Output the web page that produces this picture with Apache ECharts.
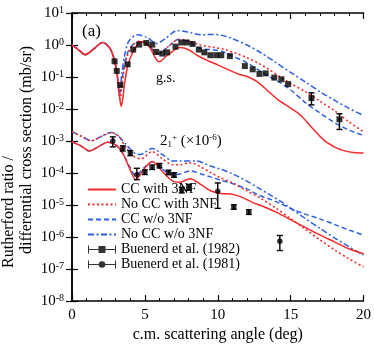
<!DOCTYPE html>
<html>
<head>
<meta charset="utf-8">
<script src="https://cdn.jsdelivr.net/npm/echarts@6/dist/echarts.min.js"></script>
<style>
  html, body { margin: 0; padding: 0; background: #fff; }
  #chart { width: 374px; height: 348px; }
</style>
</head>
<body>
<div id="chart"></div>
<script>
// ground state (g.s.) curves, [angle (deg), Rutherford ratio]
const gsCCWith3NF = [[0,1.0],[0.45,0.71],[0.9,0.50],[1.5,0.76],[2.1,1.20],[2.6,0.79],[2.9,0.35],[3.1,0.11],
  [3.25,0.028],[3.37,0.0123],[3.48,0.020],[3.59,0.054],[3.82,0.22],[4.16,0.58],[4.75,1.29],[5.3,0.89],
  [5.97,0.30],[6.6,0.50],[7.4,0.83],[8.0,0.71],[8.6,0.47],[9.35,0.32],[10,0.24],[10.7,0.17],[11.5,0.12],
  [12.1,0.10],[12.75,0.069],[13.4,0.038],[14.1,0.020],[15,0.0107],[15.7,0.0063],[16.5,0.0025],
  [17.3,0.00105],[18,6.6e-4],[18.6,5.1e-4],[19.3,4.4e-4],[20,4.2e-4]];
const gsNoCCWith3NF = [[0,1.0],[0.45,0.71],[0.9,0.50],[1.5,0.76],[2.1,1.20],[2.6,0.79],[2.9,0.35],[3.1,0.12],
  [3.3,0.020],[3.45,0.071],[3.65,0.25],[3.9,0.63],[4.25,1.07],[4.65,1.32],[5.2,1.07],[5.9,0.54],[6.6,0.89],
  [7.3,1.48],[8.0,1.35],[8.8,1.0],[9.7,0.85],[10.5,0.72],[11.2,0.56],[12,0.40],[12.75,0.275],[13.5,0.174],
  [14.3,0.10],[15,0.063],[16,0.035],[17,0.0178],[18,0.0089],[19,0.0040],[20,0.00195]];
const gsCCNo3NF = [[0,1.0],[0.45,0.71],[0.9,0.50],[1.5,0.76],[2.1,1.20],[2.6,0.79],[2.9,0.35],[3.1,0.126],
  [3.25,0.028],[3.4,0.063],[3.6,0.25],[3.85,0.63],[4.2,1.05],[4.6,1.26],[5.2,1.05],[5.9,0.52],[6.6,0.89],
  [7.3,1.48],[8.0,1.26],[8.8,0.79],[9.6,0.71],[10.3,0.63],[11,0.45],[12,0.28],[12.75,0.17],[13.5,0.105],
  [14.3,0.066],[15,0.040],[16,0.016],[17,0.0076],[18,0.0038],[19,0.0022],[20,0.0015]];
const gsNoCCNo3NF = [[0,1.0],[0.45,0.71],[0.9,0.50],[1.5,0.76],[2.1,1.20],[2.6,0.79],[2.9,0.35],[3.1,0.14],
  [3.25,0.032],[3.42,0.126],[3.6,0.45],[3.9,1.32],[4.5,2.09],[5.2,1.66],[5.8,1.12],[6.4,1.58],[7.2,2.82],
  [8.0,2.51],[8.8,2.09],[9.6,2.14],[10.3,2.0],[11,1.58],[12,1.0],[13,0.56],[14,0.28],[15,0.14],[16,0.071],
  [17,0.035],[18,0.019],[19,0.0105],[20,0.0063]];

// 2+ state curves (scaled by 1e-6), differential cross section
const exCCWith3NF = [[0,9.5e-4],[0.6,7.1e-4],[1.2,4.9e-4],[1.8,6.6e-4],[2.45,9.1e-4],[3.0,7.6e-4],[3.5,4.0e-4],
  [3.9,1.58e-4],[4.38,6.2e-5],[4.9,1.26e-4],[5.5,2.3e-4],[6.2,1.12e-4],[6.9,5.6e-5],[7.4,5.2e-5],[8.1,6.6e-5],
  [8.8,4.5e-5],[9.5,2.8e-5],[10.2,2.3e-5],[10.9,2.2e-5],[11.6,1.8e-5],[12.3,1.26e-5],[13,9.5e-6],[14,6.0e-6],
  [15,3.5e-6],[16,2.0e-6],[17,1.17e-6],[18,7.1e-7],[19,4.3e-7],[20,3.0e-7]];
const exNoCCWith3NF = [[0,1.95e-3],[0.6,1.45e-3],[1.33,1.02e-3],[2.0,1.38e-3],[2.7,1.86e-3],[3.2,1.41e-3],
  [3.7,6.3e-4],[4.3,3.2e-4],[4.75,2.8e-4],[5.5,4.7e-4],[6.2,2.8e-4],[6.9,1.82e-4],[7.4,1.82e-4],[8.1,2.1e-4],
  [8.8,1.58e-4],[9.5,1.05e-4],[10.2,7.1e-5],[11,5.0e-5],[12,2.8e-5],[13,1.58e-5],[14,7.9e-6],[15,3.8e-6],
  [16,1.78e-6],[17,8.3e-7],[18,4.0e-7],[19,2.1e-7],[20,1.17e-7]];
const exCCNo3NF = [[0,9.5e-4],[0.6,7.1e-4],[1.2,4.9e-4],[1.8,6.6e-4],[2.45,9.1e-4],[3.0,7.6e-4],[3.5,4.0e-4],
  [3.9,1.78e-4],[4.38,8.3e-5],[4.9,1.41e-4],[5.5,2.24e-4],[6.2,1.32e-4],[6.9,8.9e-5],[7.4,9.3e-5],[8.1,1.17e-4],
  [8.8,9.5e-5],[9.5,7.6e-5],[10.2,6.0e-5],[11,4.7e-5],[12,3.2e-5],[12.75,2.1e-5],[13.5,1.58e-5],[14.3,1.12e-5],
  [15,7.9e-6],[16,5.2e-6],[17,3.7e-6],[18,2.5e-6],[19,1.66e-6],[20,1.15e-6]];
const exNoCCNo3NF = [[0,1.95e-3],[0.6,1.45e-3],[1.33,1.02e-3],[2.0,1.38e-3],[2.7,1.86e-3],[3.2,1.41e-3],
  [3.7,7.9e-4],[4.3,4.2e-4],[4.7,3.8e-4],[5.5,5.9e-4],[6.2,3.8e-4],[6.9,2.4e-4],[7.5,2.4e-4],[8.5,2.4e-4],
  [9.5,1.66e-4],[10.2,1.32e-4],[11,9.5e-5],[12,5.6e-5],[12.75,3.5e-5],[13.5,2.2e-5],[14.3,1.32e-5],[15,7.9e-6],
  [16,3.8e-6],[17,1.9e-6],[18,9.5e-7],[19,5.0e-7],[20,2.75e-7]];

// Buenerd et al. (1982), g.s. data [angle, value]
const gs1982 = [[2.92,0.31],[3.07,0.155],[3.32,0.056],[3.82,0.25],[4.2,0.72],[4.61,1.03],[5.1,1.16],
  [5.51,1.03],[5.78,0.61],[6.19,0.54],[6.53,0.59],[7.1,0.89],[7.5,1.2],[7.88,1.2],[8.27,1.08],[8.7,0.72],
  [9.08,0.59],[9.49,0.48],[9.9,0.48],[10.24,0.48],[10.83,0.45],[11.86,0.22],[12.4,0.174],[12.86,0.125],
  [13.29,0.13],[13.88,0.096],[14.37,0.085],[14.83,0.06],[16.43,0.022],[18.35,0.0048]];
// error bars [angle, low, high]
const gs1982Err = [[16.43,0.0135,0.032],[18.35,0.0023,0.0071]];

// Buenerd et al. (1981), 2+ data [angle, value] and error bars [angle, low, high]
const ex1981 = [[2.8,1.0e-3],[3.48,5.9e-4],[4.0,4.2e-4],[4.45,8.9e-5],[5.0,1.07e-4],[5.5,1.51e-4],
  [6.0,1.7e-4],[6.62,1.05e-4],[7.0,8.7e-5],[7.53,2.95e-5],[8.02,3.5e-5],[10.0,2.7e-5],[11.1,8.7e-6],
  [12.13,6.0e-6],[14.26,7.4e-7]];
const ex1981Err = [[2.8,6.6e-4,1.35e-3],[3.48,4.9e-4,7.1e-4],[4.0,3.5e-4,5.0e-4],[4.45,6.2e-5,1.41e-4],
  [5.0,9.0e-5,1.26e-4],[5.5,1.29e-4,1.78e-4],[6.0,1.45e-4,2.0e-4],[6.62,8.9e-5,1.23e-4],[7.0,7.4e-5,1.02e-4],
  [7.53,2.4e-5,3.6e-5],[8.02,2.9e-5,4.3e-5],[10.0,7.9e-6,4.9e-5],[11.1,7.4e-6,1.02e-5],[12.13,5.1e-6,7.1e-6],
  [14.26,3.8e-7,1.12e-6]];

const xTicks = [0, 5, 10, 15, 20];

const SERIF = '"Liberation Serif", "DejaVu Serif", serif';
const RED = '#f42a2a';
const BLUE = '#2d5ee6';

const chart = echarts.init(document.getElementById('chart'));

const styles = {
  'CC with 3NF': {color: RED, type: 'solid', width: 1.5},
  'No CC with 3NF': {color: RED, type: [2, 2.5], width: 1.6},
  'CC w/o 3NF': {color: BLUE, type: [5, 3], width: 1.5},
  'No CC w/o 3NF': {color: BLUE, type: [6, 2.5, 2, 2.5], width: 1.5}
};

const curve = (name, data) => ({
  name: name,
  type: 'line',
  data: data,
  smooth: 0.3,
  symbol: 'none',
  z: 2,
  itemStyle: {color: styles[name].color},
  lineStyle: {color: styles[name].color, type: styles[name].type, width: styles[name].width}
});

// vertical error bar with caps
const errorBar = (params, api) => {
  const x = api.value(0);
  const lo = api.coord([x, api.value(1)]);
  const hi = api.coord([x, api.value(2)]);
  const hw = 3;
  const st = {stroke: '#000', lineWidth: 1.4};
  return {
    type: 'group',
    children: [
      {type: 'line', shape: {x1: lo[0], y1: lo[1], x2: hi[0], y2: hi[1]}, style: st},
      {type: 'line', shape: {x1: lo[0] - hw, y1: lo[1], x2: lo[0] + hw, y2: lo[1]}, style: st},
      {type: 'line', shape: {x1: hi[0] - hw, y1: hi[1], x2: hi[0] + hw, y2: hi[1]}, style: st}
    ]
  };
};

const bar = 'M0,1h1v3.4h26v-3.4h1v8h-1v-3.4h-26v3.4h-1z';
const iconSquare = 'path://' + bar + 'M10.5,1.5h7v7h-7z';
const iconCircle = 'path://' + bar + 'M14,1.7a3.3,3.3,0,1,1,0,6.6a3.3,3.3,0,1,1,0,-6.6z';
// line-only legend entries: hide the marker drawn in the middle
const lineEntry = name => ({name: name, itemStyle: {opacity: 0}});

const yLabel = v => '{b|10}{s|' + Math.round(Math.log10(v)) + '}';
const labelRich = {
  b: {fontFamily: SERIF, fontSize: 15, lineHeight: 16, color: '#000'},
  s: {fontFamily: SERIF, fontSize: 10, lineHeight: 10, verticalAlign: 'top', color: '#000'}
};

const option = {
  animation: false,
  textStyle: {fontFamily: SERIF},
  grid: {left: 72, right: 9, top: 13, bottom: 42},
  legend: {
    orient: 'vertical',
    left: 82,
    top: 177,
    itemWidth: 28,
    itemHeight: 10,
    itemGap: 0,
    textStyle: {fontFamily: SERIF, fontSize: 14, lineHeight: 15, color: '#000'},
    data: [lineEntry('CC with 3NF'), lineEntry('No CC with 3NF'), lineEntry('CC w/o 3NF'),
      lineEntry('No CC w/o 3NF'),
      {name: 'Buenerd et al. (1982)', icon: iconSquare},
      {name: 'Buenerd et al. (1981)', icon: iconCircle}]
  },
  xAxis: [{
    type: 'value', min: xTicks[0], max: xTicks[xTicks.length - 1], interval: 5,
    name: 'c.m. scattering angle (deg)', nameLocation: 'middle', nameGap: 23,
    nameTextStyle: {fontFamily: SERIF, fontSize: 16, color: '#000'},
    axisLine: {lineStyle: {color: '#000', width: 1.5}},
    axisTick: {inside: true, length: 6, lineStyle: {color: '#000', width: 1.2}},
    minorTick: {show: true, splitNumber: 5, length: 3, lineStyle: {color: '#000', width: 1}},
    axisLabel: {fontFamily: SERIF, fontSize: 15, color: '#000', margin: 6},
    splitLine: {show: false}
  }, {
    type: 'value', position: 'top', min: xTicks[0], max: xTicks[xTicks.length - 1], interval: 5,
    axisLine: {lineStyle: {color: '#000', width: 1.5}},
    axisTick: {inside: true, length: 6, lineStyle: {color: '#000', width: 1.2}},
    minorTick: {show: true, splitNumber: 5, length: 3, lineStyle: {color: '#000', width: 1}},
    axisLabel: {show: false},
    splitLine: {show: false}
  }],
  yAxis: [{
    type: 'log', logBase: 10, min: 1e-8, max: 10, splitNumber: 9,
    axisLine: {show: true, lineStyle: {color: '#000', width: 1.5}},
    axisTick: {show: true, inside: true, length: 6, lineStyle: {color: '#000', width: 1.2}},
    axisLabel: {formatter: yLabel, rich: labelRich, margin: 8},
    splitLine: {show: false}
  }, {
    type: 'log', logBase: 10, min: 1e-8, max: 10, splitNumber: 9, position: 'right',
    axisLine: {show: true, lineStyle: {color: '#000', width: 1.5}},
    axisTick: {show: true, inside: true, length: 6, lineStyle: {color: '#000', width: 1.2}},
    axisLabel: {show: false},
    splitLine: {show: false}
  }],
  graphic: [
    {type: 'text', left: 82, top: 23, style: {text: '(a)', font: '17px ' + SERIF, fill: '#000'}},
    {type: 'text', left: 156, top: 71, style: {text: 'g.s.', font: '14px ' + SERIF, fill: '#000'}},
    {type: 'text', left: 160, top: 133, style: {
      text: '{b|2}{d|1}{s|+}{b| (×10}{s|-6}{b|)}',
      rich: {
        b: {fontFamily: SERIF, fontSize: 15, lineHeight: 16, fill: '#000'},
        s: {fontFamily: SERIF, fontSize: 9, lineHeight: 9, verticalAlign: 'top', fill: '#000'},
        d: {fontFamily: SERIF, fontSize: 9, lineHeight: 9, verticalAlign: 'bottom', fill: '#000'}
      }
    }},
    {type: 'text', x: 9, y: 212, rotation: Math.PI / 2, style: {
      text: 'Rutherford ratio /', font: '16px ' + SERIF, fill: '#000', align: 'center', verticalAlign: 'middle'}},
    {type: 'text', x: 27, y: 150, rotation: Math.PI / 2, style: {
      text: 'differential cross section (mb/sr)', font: '16px ' + SERIF, fill: '#000',
      align: 'center', verticalAlign: 'middle'}}
  ],
  series: [
    curve('No CC w/o 3NF', gsNoCCNo3NF),
    curve('No CC w/o 3NF', exNoCCNo3NF),
    curve('CC w/o 3NF', gsCCNo3NF),
    curve('CC w/o 3NF', exCCNo3NF),
    curve('No CC with 3NF', gsNoCCWith3NF),
    curve('No CC with 3NF', exNoCCWith3NF),
    curve('CC with 3NF', gsCCWith3NF),
    curve('CC with 3NF', exCCWith3NF),
    {
      name: 'Buenerd et al. (1982)', type: 'scatter', data: gs1982, symbol: 'rect', symbolSize: 6,
      itemStyle: {color: '#000'}, z: 5
    },
    {
      name: 'Buenerd et al. (1982)', type: 'custom', data: gs1982Err, renderItem: errorBar,
      encode: {x: 0, y: [1, 2]}, itemStyle: {color: '#000'}, z: 4
    },
    {
      name: 'Buenerd et al. (1981)', type: 'scatter', data: ex1981, symbol: 'circle', symbolSize: 5.5,
      itemStyle: {color: '#000'}, z: 5
    },
    {
      name: 'Buenerd et al. (1981)', type: 'custom', data: ex1981Err, renderItem: errorBar,
      encode: {x: 0, y: [1, 2]}, itemStyle: {color: '#000'}, z: 4
    }
  ]
};

chart.setOption(option);
</script>
</body>
</html>
